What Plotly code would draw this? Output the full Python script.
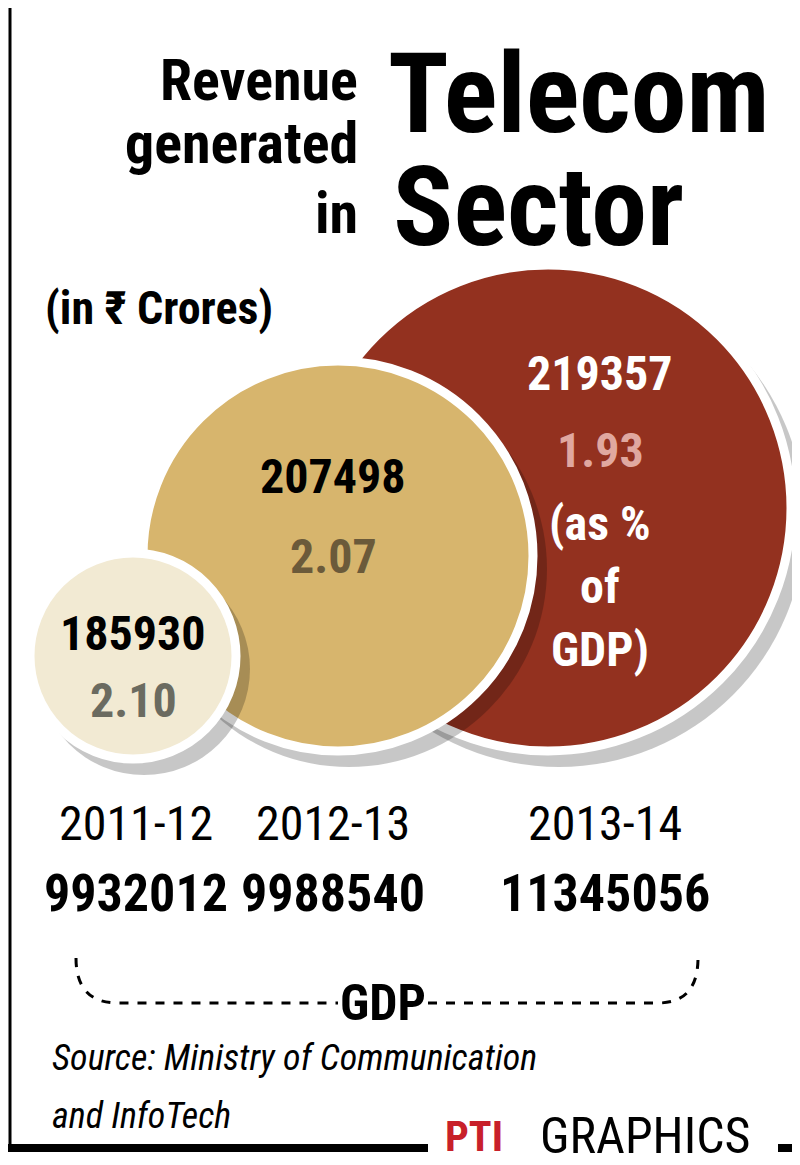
import plotly.graph_objects as go

years = ["2011-12", "2012-13", "2013-14"]
revenue = ["185930", "207498", "219357"]
pct_gdp = ["2.10", "2.07", "1.93"]
gdp = ["9932012", "9988540", "11345056"]

circ = [(125, 648, 103, "#f2ead3"), (330, 548, 195, "#d7b56d"), (540, 500, 243, "#93311f")]
circ_draw_order = [2, 1, 0]

fig = go.Figure()
shapes = []
for i in circ_draw_order:
    cx, cy, r, col = circ[i]
    shapes.append(dict(type="circle", x0=cx - r + 8, x1=cx + r + 14, y0=cy - r + 10, y1=cy + r + 16,
                       fillcolor="rgba(0,0,0,0.22)", line=dict(width=0), layer="below"))
    shapes.append(dict(type="circle", x0=cx - r, x1=cx + r, y0=cy - r, y1=cy + r,
                       fillcolor=col, line=dict(color="white", width=9), layer="below"))
shapes += [
    dict(type="line", x0=2, x1=2, y0=0, y1=1140, line=dict(color="black", width=3)),
    dict(type="line", x0=0, x1=420, y0=1140, y1=1140, line=dict(color="black", width=8)),
    dict(type="line", x0=770, x1=800, y0=1140, y1=1140, line=dict(color="black", width=8)),
    dict(type="path", path="M 68,950 Q 68,995 110,995 L 330,995", line=dict(color="black", width=3, dash="dash")),
    dict(type="path", path="M 420,995 L 650,995 Q 690,995 690,950", line=dict(color="black", width=3, dash="dash")),
]

F = "Liberation Sans Narrow, Arial Narrow, Roboto Condensed, Roboto, sans-serif"
ann = []
def t(x, y, s, size, color="black", bold=True, xa="center", italic=False, font=F):
    txt = f"<b>{s}</b>" if bold else s
    if italic:
        txt = f"<i>{txt}</i>"
    ann.append(dict(x=x, y=y, text=txt, showarrow=False, xanchor=xa, yanchor="middle",
                    font=dict(size=size, color=color, family=font)))

t(352, 72, "Revenue", 58, xa="right")
t(352, 135, "generated", 58, xa="right")
t(352, 205, "in", 58, xa="right")
t(378, 85, "Telecom", 112, xa="left")
t(383, 198, "Sector", 112, xa="left")
t(35, 300, "(in ₹ Crores)", 46, xa="left")

t(592, 365, revenue[2], 48, "white")
t(592, 442, pct_gdp[2], 48, "#e0a8a0")
t(592, 515, "(as %", 48, "white")
t(592, 578, "of", 48, "white")
t(592, 641, "GDP)", 48, "white")
t(325, 468, revenue[1], 48)
t(325, 548, pct_gdp[1], 48, "#6b5a3a")
t(125, 625, revenue[0], 48)
t(125, 692, pct_gdp[0], 48, "#6b6b60")

for x, y, g in zip([128, 325, 597], years, gdp):
    t(x, 815, y, 48, bold=False)
    t(x, 885, g, 52)
t(375, 995, "GDP", 50)
t(42, 1050, "Source: Ministry of Communication", 36, bold=False, xa="left", italic=True)
t(42, 1108, "and InfoTech", 36, bold=False, xa="left", italic=True)
t(435, 1128, "PTI", 42, "#c8202a", xa="left")
t(530, 1128, "GRAPHICS", 50, bold=False, xa="left")

fig.update_layout(width=800, height=1165, margin=dict(l=0, r=0, t=0, b=0),
                  paper_bgcolor="white", plot_bgcolor="white", showlegend=False,
                  shapes=shapes, annotations=ann,
                  xaxis=dict(range=[0, 800], visible=False, fixedrange=True),
                  yaxis=dict(range=[1165, 0], visible=False, fixedrange=True))
fig.write_html("out.html")
